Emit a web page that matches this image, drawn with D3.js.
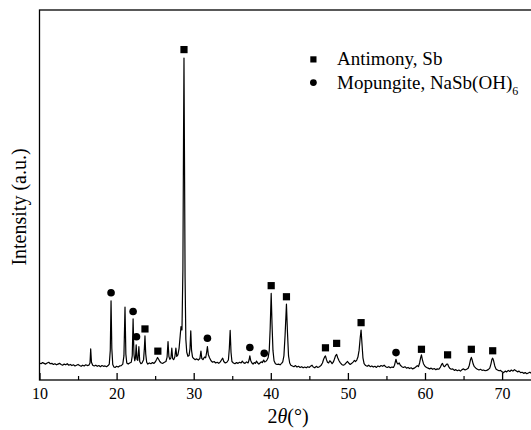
<!DOCTYPE html>
<html>
<head>
<meta charset="utf-8">
<script src="https://cdn.jsdelivr.net/npm/d3@7"></script>
<style>
  body { margin: 0; background: #fff; }
  #plot svg text, #plot svg tspan { font-family: 'Liberation Serif', 'Times New Roman' !important; }
</style>
</head>
<body>
<div id="plot"></div>
<script>
// XRD trace: [2theta, intensity (a.u.)]
const pattern = [
  [10.0, 4.6], [10.2, 4.4], [10.4, 4.7], [10.6, 4.5], [10.8, 4.3], [11.0, 4.6], [11.2, 4.8], [11.4, 4.4],
  [11.6, 4.5], [11.8, 4.2], [12.0, 4.4], [12.2, 4.1], [12.4, 4.3], [12.6, 4.5], [12.8, 4.2], [13.0, 4.0],
  [13.2, 4.3], [13.4, 4.1], [13.6, 4.4], [13.8, 4.0], [14.0, 4.2], [14.2, 3.9], [14.4, 4.1], [14.6, 3.8],
  [14.8, 4.0], [15.0, 4.2], [15.2, 3.9], [15.4, 3.7], [15.6, 4.0], [15.8, 3.8], [16.0, 4.1], [16.2, 3.9],
  [16.4, 4.0], [16.55, 4.6], [16.64, 8.4], [16.74, 4.8], [16.9, 4.0], [17.1, 3.8], [17.3, 4.0], [17.5, 3.7],
  [17.7, 3.9], [17.9, 3.6], [18.1, 3.9], [18.3, 3.7], [18.5, 3.8], [18.7, 3.6], [18.9, 3.9], [19.05, 4.3],
  [19.18, 8.0], [19.28, 21.4], [19.38, 8.5], [19.5, 4.2], [19.65, 3.5], [19.8, 3.4], [20.0, 3.7], [20.2, 3.5],
  [20.4, 3.8], [20.6, 3.9], [20.8, 4.3], [20.95, 6.5], [21.09, 19.7], [21.2, 7.0], [21.32, 4.6], [21.5, 4.3],
  [21.7, 4.6], [21.9, 4.8], [22.03, 6.5], [22.14, 16.5], [22.25, 7.0], [22.35, 5.2], [22.45, 6.0], [22.54, 9.5],
  [22.64, 5.6], [22.75, 5.3], [22.89, 9.0], [23.0, 5.0], [23.15, 4.4], [23.3, 4.6], [23.5, 5.5], [23.6, 8.5],
  [23.68, 11.9], [23.78, 7.0], [23.9, 4.8], [24.05, 4.3], [24.25, 4.6], [24.45, 4.4], [24.65, 4.7], [24.85, 4.5],
  [25.05, 5.0], [25.2, 5.6], [25.31, 6.1], [25.45, 5.6], [25.6, 5.0], [25.8, 4.6], [26.0, 4.5], [26.2, 4.8],
  [26.4, 5.0], [26.55, 6.2], [26.67, 10.4], [26.78, 6.4], [26.9, 5.6], [27.05, 6.0], [27.16, 8.6], [27.27, 5.8],
  [27.4, 5.5], [27.55, 6.2], [27.69, 8.6], [27.8, 6.4], [27.95, 6.8], [28.1, 8.5], [28.25, 12.0], [28.35, 14.4],
  [28.48, 13.5], [28.6, 30.0], [28.68, 65.0], [28.74, 87.0], [28.8, 62.0], [28.88, 28.0], [28.98, 11.0], [29.1, 7.5],
  [29.25, 6.4], [29.4, 6.6], [29.52, 8.5], [29.62, 13.3], [29.72, 8.0], [29.85, 6.2], [30.0, 5.8], [30.2, 5.5],
  [30.4, 5.7], [30.6, 5.4], [30.8, 5.8], [30.94, 7.8], [31.05, 5.8], [31.2, 5.5], [31.4, 6.2], [31.55, 6.0],
  [31.68, 7.5], [31.78, 9.0], [31.9, 6.8], [32.05, 6.0], [32.25, 5.2], [32.45, 4.8], [32.65, 5.0], [32.85, 4.6],
  [33.05, 4.8], [33.25, 4.5], [33.45, 4.9], [33.6, 5.4], [33.76, 5.9], [33.9, 5.0], [34.1, 4.6], [34.3, 4.8],
  [34.5, 5.4], [34.62, 8.5], [34.73, 13.4], [34.84, 7.5], [34.96, 5.0], [35.15, 4.6], [35.35, 4.4], [35.55, 4.7],
  [35.75, 4.5], [35.95, 4.8], [36.15, 4.6], [36.3, 5.1], [36.45, 4.7], [36.65, 4.5], [36.85, 4.9], [37.05, 4.6],
  [37.18, 5.4], [37.28, 6.5], [37.4, 5.2], [37.55, 4.6], [37.7, 4.3], [37.85, 4.7], [38.0, 4.5], [38.15, 5.1],
  [38.3, 4.6], [38.45, 4.3], [38.6, 4.6], [38.75, 4.9], [38.9, 4.7], [39.0, 5.1], [39.08, 5.4], [39.2, 4.9],
  [39.35, 5.0], [39.5, 5.4], [39.65, 6.0], [39.8, 8.0], [39.92, 14.0], [40.05, 23.4], [40.16, 15.0], [40.28, 8.0],
  [40.42, 5.2], [40.6, 4.4], [40.8, 4.2], [41.0, 4.3], [41.2, 4.1], [41.4, 4.5], [41.55, 4.9], [41.7, 6.5],
  [41.85, 12.0], [42.03, 20.5], [42.16, 13.0], [42.3, 6.5], [42.45, 4.6], [42.6, 4.0], [42.8, 3.8], [43.0, 3.6],
  [43.2, 3.9], [43.4, 3.5], [43.6, 3.7], [43.8, 3.4], [44.0, 3.6], [44.2, 3.3], [44.4, 3.5], [44.6, 3.3],
  [44.8, 3.6], [45.0, 3.4], [45.2, 3.8], [45.35, 4.0], [45.5, 3.5], [45.7, 3.3], [45.9, 3.7], [46.1, 3.4],
  [46.3, 3.6], [46.5, 3.9], [46.7, 4.6], [46.85, 5.6], [47.0, 6.3], [47.09, 6.5], [47.22, 5.5], [47.35, 4.8],
  [47.5, 4.6], [47.65, 5.2], [47.8, 4.9], [47.95, 4.4], [48.1, 4.8], [48.25, 5.6], [48.4, 6.6], [48.54, 6.9],
  [48.68, 6.0], [48.85, 5.2], [49.0, 4.7], [49.2, 4.2], [49.4, 4.0], [49.6, 4.2], [49.8, 4.7], [49.95, 5.0],
  [50.1, 4.6], [50.3, 4.2], [50.5, 4.5], [50.7, 4.9], [50.85, 5.3], [51.0, 5.0], [51.15, 5.4], [51.3, 6.2],
  [51.45, 8.0], [51.6, 11.5], [51.71, 13.5], [51.82, 10.0], [51.95, 6.0], [52.1, 4.4], [52.3, 3.9], [52.5, 3.7],
  [52.7, 4.0], [52.9, 3.6], [53.1, 3.8], [53.3, 3.5], [53.5, 3.7], [53.7, 3.4], [53.9, 3.8], [54.1, 3.6],
  [54.3, 3.9], [54.5, 3.7], [54.7, 4.0], [54.9, 3.6], [55.1, 3.4], [55.3, 3.6], [55.5, 3.3], [55.7, 3.5],
  [55.9, 3.4], [56.05, 4.0], [56.15, 4.9], [56.24, 5.6], [56.35, 4.7], [56.5, 4.3], [56.65, 4.6], [56.8, 4.0],
  [57.0, 3.6], [57.2, 3.4], [57.4, 3.6], [57.6, 3.2], [57.8, 3.4], [58.0, 3.1], [58.2, 3.3], [58.4, 3.0],
  [58.6, 3.2], [58.8, 3.5], [59.0, 3.9], [59.15, 3.6], [59.3, 4.6], [59.43, 6.0], [59.54, 6.8], [59.65, 5.6],
  [59.8, 4.4], [60.0, 3.7], [60.2, 3.4], [60.4, 3.2], [60.6, 3.0], [60.8, 3.2], [61.0, 2.9], [61.2, 3.1],
  [61.4, 2.8], [61.6, 3.0], [61.8, 2.9], [62.0, 3.5], [62.15, 4.2], [62.27, 4.5], [62.4, 3.8], [62.55, 3.6],
  [62.7, 4.0], [62.82, 4.3], [62.93, 4.3], [63.05, 3.7], [63.2, 3.2], [63.4, 2.9], [63.6, 3.0], [63.8, 2.6],
  [64.0, 2.8], [64.2, 2.5], [64.4, 2.7], [64.6, 2.4], [64.8, 2.8], [65.0, 3.0], [65.2, 2.7], [65.4, 2.9],
  [65.6, 3.2], [65.75, 4.0], [65.9, 5.5], [66.01, 6.1], [66.12, 5.4], [66.25, 4.3], [66.4, 3.6], [66.6, 3.2],
  [66.8, 2.9], [67.0, 2.7], [67.2, 2.9], [67.4, 2.6], [67.6, 2.7], [67.8, 2.5], [68.0, 2.6], [68.2, 2.8],
  [68.4, 3.2], [68.55, 4.3], [68.68, 5.6], [68.78, 5.9], [68.9, 5.2], [69.05, 3.8], [69.2, 3.0], [69.4, 2.7],
  [69.6, 2.5], [69.8, 2.6], [70.0, 2.2], [70.2, 2.0], [70.4, 2.4], [70.6, 2.2], [70.8, 2.6], [71.0, 2.3],
  [71.2, 2.7], [71.4, 2.4], [71.6, 2.8], [71.8, 2.5], [72.0, 2.2], [72.2, 2.4], [72.4, 2.0], [72.6, 2.1],
  [72.8, 1.8], [73.0, 2.0], [73.2, 1.7], [73.4, 1.9], [73.6, 2.1], [73.8, 1.8], [74.0, 2.2], [74.2, 1.9],
  [74.4, 2.1], [74.6, 1.8], [74.8, 2.0], [75.0, 1.9]
];

// peak markers: [2theta, marker height]
const antimonyPeaks = [
  [23.68, 13.8], [25.35, 7.8], [28.74, 89.3], [40.05, 25.5], [42.03, 22.5], [47.09, 8.7],
  [48.54, 9.9], [51.71, 15.5], [59.54, 8.3], [62.93, 6.8], [66.01, 8.3], [68.78, 7.9]
];
const mopungitePeaks = [
  [19.28, 23.6], [22.14, 18.5], [22.58, 11.7], [31.78, 11.3], [37.28, 8.8], [39.15, 7.2], [56.24, 7.4]
];

const majorTicks = [10, 20, 30, 40, 50, 60, 70];
const minorTicks = [15, 25, 35, 45, 55, 65, 75];
const xDomain = [10, 80];
const yDomain = [0, 100];

const fontFam = "'Times New Roman'";

const svgWidth = 531;
const svgHeight = 430;
const margin = {top: 10, bottom: 50, left: 39.5};

const svg = d3.select('body').append('svg')
    .attr('width', svgWidth)
    .attr('height', svgHeight);

const x = d3.scaleLinear()
    .domain(xDomain)
    .range([margin.left, margin.left + 7.71 * (xDomain[1] - xDomain[0])]);

const y = d3.scaleLinear()
    .domain(yDomain)
    .range([svgHeight - margin.bottom, margin.top]);

const x0 = x.range()[0], x1 = x.range()[1];
const y0 = y.range()[0], y1 = y.range()[1];

// frame (right side runs past the picture edge)
svg.append('rect')
    .attr('x', x0).attr('y', y1)
    .attr('width', x1 - x0).attr('height', y0 - y1)
    .attr('fill', 'none')
    .attr('stroke', '#000')
    .attr('stroke-width', 1.3);

const xAxis = d3.axisBottom(x)
    .tickValues(majorTicks)
    .tickSize(-7)
    .tickSizeOuter(0)
    .tickPadding(8)
    .tickFormat(d3.format('d'));

const gx = svg.append('g')
    .attr('transform', `translate(0,${y0})`)
    .call(xAxis)
    .attr('font-family', null)
    .attr('font-size', null);
gx.select('.domain').remove();
gx.selectAll('line').attr('stroke-width', 1.3);
gx.selectAll('text')
    .attr('fill', '#000')
    .style('font-family', fontFam)
    .style('font-size', '16px');

const gMinor = svg.append('g')
    .attr('transform', `translate(0,${y0})`)
    .call(d3.axisBottom(x).tickValues(minorTicks).tickSize(-4).tickFormat(''));
gMinor.select('.domain').remove();
gMinor.selectAll('line').attr('stroke-width', 1.2);

// axis titles
svg.append('text')
    .attr('transform', `translate(26,207) rotate(-90)`)
    .attr('text-anchor', 'middle')
    .style('font-family', fontFam)
    .style('font-size', '20px')
    .text('Intensity (a.u.)');

const xTitle = svg.append('text')
    .attr('x', 288)
    .attr('y', 423)
    .attr('text-anchor', 'middle')
    .style('font-family', fontFam)
    .style('font-size', '20px');
xTitle.append('tspan').text('2');
xTitle.append('tspan').style('font-style', 'italic').text('θ');
xTitle.append('tspan').text('(°)');

// diffraction line
svg.append('path')
    .datum(pattern)
    .attr('fill', 'none')
    .attr('stroke', '#000')
    .attr('stroke-width', 1.2)
    .attr('stroke-linejoin', 'round')
    .attr('d', d3.line()
        .x(d => x(d[0]))
        .y(d => y(d[1])));

// markers
svg.selectAll('.sb')
    .data(antimonyPeaks)
    .enter()
    .append('rect')
    .attr('x', d => x(d[0]) - 3.6)
    .attr('y', d => y(d[1]) - 3.6)
    .attr('width', 7.2)
    .attr('height', 7.2)
    .attr('fill', '#000');

svg.selectAll('.nasb')
    .data(mopungitePeaks)
    .enter()
    .append('circle')
    .attr('cx', d => x(d[0]))
    .attr('cy', d => y(d[1]))
    .attr('r', 3.8)
    .attr('fill', '#000');

// legend
const legend = svg.append('g');
legend.append('rect')
    .attr('x', 310.3).attr('y', 56.3)
    .attr('width', 6.2).attr('height', 6.2)
    .attr('fill', '#000');
legend.append('text')
    .attr('x', 337).attr('y', 65)
    .style('font-family', fontFam)
    .style('font-size', '19px')
    .text('Antimony, Sb');
legend.append('circle')
    .attr('cx', 313.4).attr('cy', 82.6)
    .attr('r', 3.4)
    .attr('fill', '#000');
const l2 = legend.append('text')
    .attr('x', 337).attr('y', 89)
    .style('font-family', fontFam)
    .style('font-size', '19px');
l2.append('tspan').text('Mopungite, NaSb(OH)');
l2.append('tspan').attr('dy', 6).style('font-size', '12px').text('6');
</script>
</body>
</html>
